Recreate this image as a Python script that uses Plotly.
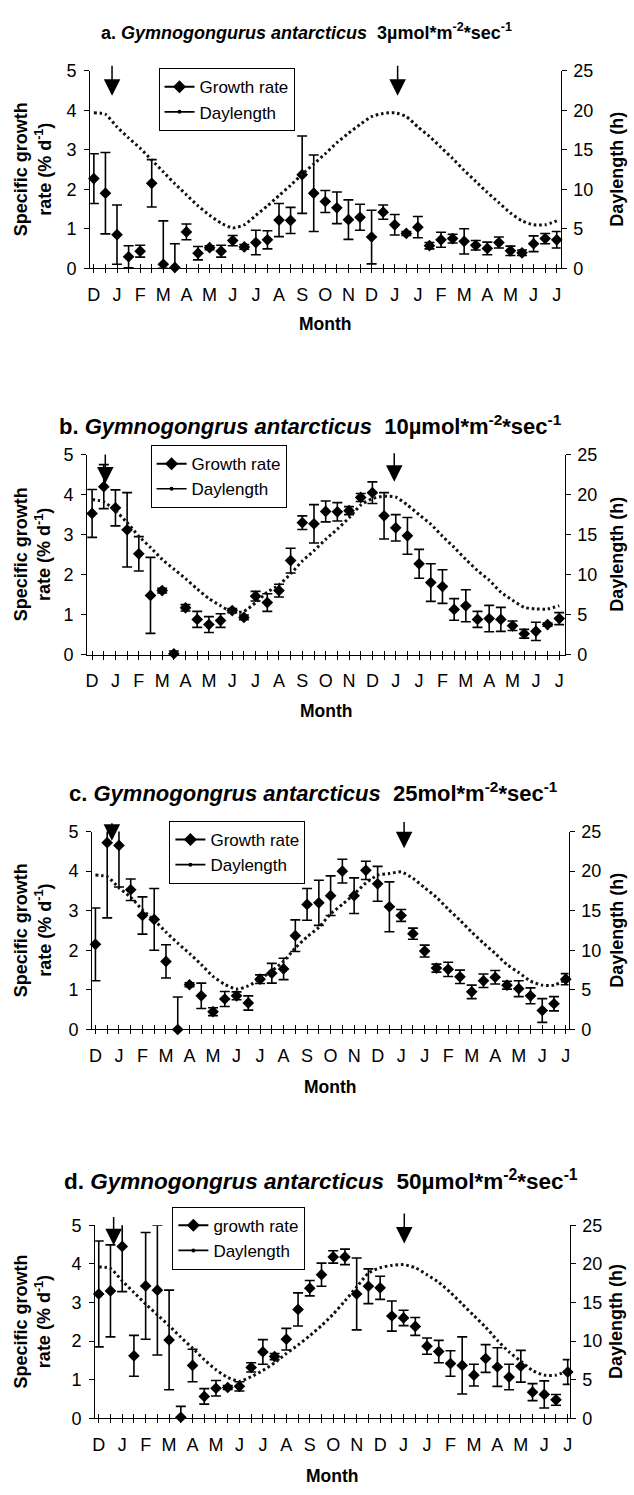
import plotly.graph_objects as go

# ---------------- data ----------------
months = ["D", "J", "F", "M", "A", "M", "J", "J", "A", "S", "O", "N",
          "D", "J", "J", "F", "M", "A", "M", "J", "J"]
sample_idx = list(range(41))  # two samplings per month

growth_a = [2.27, 1.90, 0.85, 0.29, 0.43, 2.15, 0.10, 0.02, 0.92, 0.38, 0.52, 0.43, 0.70, 0.54,
            0.65, 0.72, 1.22, 1.21, 2.37, 1.90, 1.69, 1.53, 1.23, 1.29, 0.79, 1.42, 1.10, 0.88,
            1.04, 0.57, 0.72, 0.75, 0.68, 0.58, 0.50, 0.65, 0.44, 0.39, 0.62, 0.75, 0.72]
err_a = [0.63, 1.03, 0.75, 0.28, 0.15, 0.60, 1.10, 0.60, 0.20, 0.17, 0.05, 0.15, 0.13, 0.06,
         0.31, 0.23, 0.42, 0.33, 0.98, 0.97, 0.28, 0.40, 0.50, 0.33, 0.68, 0.18, 0.26, 0.05,
         0.27, 0.08, 0.19, 0.11, 0.32, 0.12, 0.16, 0.14, 0.12, 0.07, 0.20, 0.13, 0.21]
daylength_a = [19.7, 19.5, 17.9, 16.5, 15.2, 13.7, 12.2, 10.7, 9.3, 7.9, 6.7, 5.7, 5.1, 5.5,
               6.7, 7.9, 9.2, 10.5, 11.9, 13.2, 14.5, 15.9, 17.1, 18.2, 19.2, 19.6, 19.7, 19.2,
               17.9, 16.7, 15.3, 13.9, 12.4, 11.0, 9.6, 8.3, 7.0, 6.0, 5.5, 5.5, 6.0]

growth_b = [3.53, 4.20, 3.67, 3.12, 2.52, 1.48, 1.60, 0.02, 1.17, 0.88, 0.75, 0.85, 1.10, 0.93,
            1.46, 1.30, 1.60, 2.35, 3.30, 3.27, 3.58, 3.57, 3.60, 3.93, 4.05, 3.47, 3.17, 2.97,
            2.27, 1.80, 1.70, 1.13, 1.22, 0.88, 0.90, 0.88, 0.72, 0.52, 0.58, 0.75, 0.90]
err_b = [0.60, 0.55, 0.45, 0.93, 0.43, 0.95, 0.06, 0.07, 0.08, 0.20, 0.20, 0.17, 0.05, 0.06,
         0.12, 0.22, 0.16, 0.31, 0.17, 0.48, 0.26, 0.23, 0.10, 0.10, 0.27, 0.58, 0.33, 0.46,
         0.36, 0.47, 0.42, 0.27, 0.40, 0.20, 0.33, 0.30, 0.12, 0.11, 0.23, 0.04, 0.15]
daylength_b = [19.4, 19.1, 18.0, 16.5, 14.8, 13.4, 11.9, 10.7, 9.5, 8.2, 7.0, 6.1, 5.3, 5.4,
               6.5, 7.8, 8.7, 10.1, 11.7, 13.0, 14.4, 15.7, 17.1, 18.7, 19.5, 19.8, 19.7, 18.7,
               17.5, 16.3, 14.8, 13.4, 11.9, 10.5, 9.3, 7.8, 6.8, 5.9, 5.7, 5.7, 6.1]

growth_c = [2.15, 4.72, 4.65, 3.53, 2.88, 2.78, 1.72, 0.00, 1.13, 0.85, 0.45, 0.77, 0.85, 0.67,
            1.27, 1.42, 1.53, 2.37, 3.16, 3.20, 3.38, 4.00, 3.38, 4.02, 3.68, 3.10, 2.88, 2.42,
            1.98, 1.55, 1.52, 1.33, 0.95, 1.23, 1.32, 1.12, 1.03, 0.85, 0.48, 0.65, 1.27]
err_c = [0.92, 1.90, 1.05, 0.27, 0.47, 0.78, 0.42, 0.82, 0.05, 0.32, 0.10, 0.19, 0.10, 0.18,
         0.11, 0.25, 0.27, 0.40, 0.40, 0.57, 0.50, 0.30, 0.45, 0.23, 0.44, 0.63, 0.15, 0.14,
         0.15, 0.10, 0.18, 0.17, 0.17, 0.17, 0.17, 0.10, 0.20, 0.20, 0.30, 0.18, 0.14]
daylength_c = [19.5, 19.3, 17.9, 16.7, 15.1, 13.8, 12.3, 10.9, 9.6, 8.2, 6.7, 5.7, 5.1, 5.5,
               6.4, 7.4, 8.6, 10.3, 11.7, 12.9, 14.6, 15.8, 17.1, 18.5, 19.5, 19.7, 19.9, 19.1,
               17.9, 16.7, 15.2, 13.8, 12.3, 10.9, 9.6, 8.2, 7.2, 6.1, 5.6, 5.6, 6.3]

growth_d = [3.22, 3.30, 4.45, 1.62, 3.43, 3.32, 2.03, 0.03, 1.37, 0.57, 0.78, 0.80, 0.83, 1.32,
            1.72, 1.60, 2.05, 2.82, 3.37, 3.72, 4.18, 4.18, 3.22, 3.42, 3.38, 2.65, 2.60, 2.38,
            1.87, 1.73, 1.42, 1.37, 1.12, 1.55, 1.33, 1.07, 1.35, 0.68, 0.62, 0.48, 1.20]
err_d = [1.37, 1.19, 1.17, 0.53, 1.38, 1.68, 1.29, 0.28, 0.42, 0.20, 0.20, 0.05, 0.12, 0.12,
         0.32, 0.08, 0.28, 0.43, 0.20, 0.30, 0.16, 0.20, 0.93, 0.45, 0.30, 0.39, 0.20, 0.23,
         0.21, 0.29, 0.33, 0.74, 0.28, 0.36, 0.50, 0.33, 0.41, 0.22, 0.35, 0.14, 0.32]
daylength_d = [19.6, 19.4, 17.8, 16.3, 14.8, 13.4, 12.0, 10.5, 9.1, 7.6, 6.3, 5.3, 4.8, 5.4,
               6.2, 7.2, 8.4, 9.5, 10.7, 12.0, 13.5, 15.2, 17.0, 18.8, 19.5, 19.8, 19.9, 19.5,
               18.6, 17.6, 16.3, 14.8, 13.3, 11.8, 10.1, 8.6, 7.4, 6.2, 5.6, 5.6, 6.2]

titles = [
    "<b>a. <i>Gymnogongurus antarcticus</i>\u00a0\u00a03µmol*m<sup>-2</sup>*sec<sup>-1</sup></b>",
    "<b>b. <i>Gymnogongrus antarcticus</i>\u00a0\u00a010µmol*m<sup>-2</sup>*sec<sup>-1</sup></b>",
    "<b>c. <i>Gymnogongrus antarcticus</i>\u00a0\u00a025mol*m<sup>-2</sup>*sec<sup>-1</sup></b>",
    "<b>d. <i>Gymnogongrus antarcticus</i>\u00a0\u00a050µmol*m<sup>-2</sup>*sec<sup>-1</sup></b>",
]
growth_names = ["Growth rate", "Growth rate", "Growth rate", "growth rate"]
daylength_name = "Daylength"
# arrows: (sample position, arrow top, arrow tip) in growth-rate units
arrows = [
    [(1.57, 5.17, 4.37), (26.25, 5.17, 4.37)],
    [(1.13, 5.04, 4.28), (25.87, 5.07, 4.32)],
    [(1.40, 5.25, 4.77), (26.25, 5.28, 4.58)],
    [(1.27, 5.25, 4.48), (26.06, 5.34, 4.53)],
]

# ---------------- layout geometry (pixels) ----------------
W, H = 634, 1495
FONT = "Arial, Liberation Sans, sans-serif"


def fx(px):
    return px / W


def fy(py):
    return 1 - py / H


panels = [
    dict(g=growth_a, e=err_a, d=daylength_a, xdom=(88, 563), xr=(-0.32, 40.34),
         ytop=61.7, ybot=261.7, tx=306, ty=21.7, ts=18, leg=(157, 59), my=318),
    dict(g=growth_b, e=err_b, d=daylength_b, xdom=(85, 567), xr=(-0.42, 40.46),
         ytop=450.7, ybot=653.3, tx=310, ty=421, ts=22, leg=(149, 441), my=711),
    dict(g=growth_c, e=err_c, d=daylength_c, xdom=(90, 571), xr=(-0.28, 40.24),
         ytop=832.7, ybot=1033.3, tx=313, ty=793, ts=22, leg=(168, 822), my=1092),
    dict(g=growth_d, e=err_d, d=daylength_d, xdom=(93, 572), xr=(-0.31, 40.16),
         ytop=1231.7, ybot=1427.5, tx=321, ty=1186, ts=22.5, leg=(171, 1213), my=1486),
]

major_vals = sample_idx[::2]
minor_vals = sample_idx[1::2]


def nm(prefix, n):
    return prefix if n == 1 else f"{prefix}{n}"


fig = go.Figure()
layout = dict(width=W, height=H, margin=dict(l=0, r=0, t=0, b=0),
              paper_bgcolor="white", plot_bgcolor="white",
              font=dict(family=FONT, size=18, color="black"), showlegend=True)
annotations = []

for i, p in enumerate(panels):
    xn, xon, yl, yr = i + 1, i + 5, 2 * i + 1, 2 * i + 2
    xref, xoref, ylref, yrref = nm("x", xn), nm("x", xon), nm("y", yl), nm("y", yr)
    legname = nm("legend", i + 1)

    plus = [min(e, 5.15 - g) for g, e in zip(p["g"], p["e"])]
    minus = [min(e, g) for g, e in zip(p["g"], p["e"])]

    fig.add_trace(go.Scatter(
        x=sample_idx, y=p["d"], mode="lines",
        line=dict(color="#111", width=3, dash="2.6px,2.8px", shape="spline", smoothing=0.6),
        xaxis=xref, yaxis=yrref, showlegend=False, hoverinfo="skip"))
    fig.add_trace(go.Scatter(
        x=sample_idx, y=p["g"], mode="markers",
        marker=dict(symbol="diamond", size=9, color="black"),
        error_y=dict(type="data", symmetric=False, array=plus, arrayminus=minus,
                     color="black", thickness=1.6, width=5),
        cliponaxis=False, xaxis=xref, yaxis=ylref, showlegend=False, hoverinfo="skip"))
    # legend entries
    fig.add_trace(go.Scatter(
        x=[None], y=[None], mode="lines+markers", name=growth_names[i],
        line=dict(color="black", width=2), marker=dict(symbol="diamond", size=10, color="black"),
        xaxis=xref, yaxis=ylref, legend=legname))
    fig.add_trace(go.Scatter(
        x=[None], y=[None], mode="lines+markers", name=daylength_name,
        line=dict(color="black", width=1.6), marker=dict(symbol="circle", size=4, color="black"),
        xaxis=xref, yaxis=ylref, legend=legname))
    # helper for inward tick marks
    fig.add_trace(go.Scatter(x=[None], y=[None], xaxis=xoref, yaxis=ylref,
                             showlegend=False, hoverinfo="skip"))

    layout[nm("xaxis", xn)] = dict(
        domain=[fx(p["xdom"][0]), fx(p["xdom"][1])], range=list(p["xr"]), anchor=ylref,
        tickmode="array", tickvals=major_vals, ticktext=months, ticks="outside", ticklen=4,
        tickcolor="black", tickwidth=1,
        minor=dict(tickmode="array", tickvals=minor_vals, ticks="outside", ticklen=4,
                   tickcolor="black", tickwidth=1, showgrid=False),
        showline=True, linecolor="black", linewidth=1,
        showgrid=False, zeroline=False, tickfont=dict(size=18), ticklabelstandoff=6)
    layout[nm("xaxis", xon)] = dict(
        overlaying=xref, anchor=ylref, range=list(p["xr"]), tickmode="array",
        tickvals=sample_idx, ticks="inside", ticklen=4, tickcolor="black", tickwidth=1,
        showticklabels=False, showline=False, showgrid=False, zeroline=False)
    layout[nm("yaxis", yl)] = dict(
        domain=[fy(p["ybot"]), fy(p["ytop"])], range=[0, 5], dtick=1, tick0=0, anchor=xref,
        ticks="outside", ticklen=5, tickcolor="black", showline=True, linecolor="black",
        linewidth=1, showgrid=False, zeroline=False, tickfont=dict(size=18),
        ticklabelstandoff=4)
    layout[nm("yaxis", yr)] = dict(
        overlaying=ylref, side="right", anchor=xref, range=[0, 25], dtick=5, tick0=0,
        ticks="outside", ticklen=5, tickcolor="black", showline=True, linecolor="black",
        linewidth=1, showgrid=False, zeroline=False, tickfont=dict(size=18),
        ticklabelstandoff=3)

    layout[legname] = dict(
        x=fx(p["leg"][0]), y=fy(p["leg"][1]), xanchor="left", yanchor="top",
        bgcolor="white", bordercolor="black", borderwidth=1,
        font=dict(size=17, family=FONT), tracegroupgap=0, itemclick=False)

    ymid = (p["ytop"] + p["ybot"]) / 2
    annotations += [
        dict(text=titles[i], x=fx(p["tx"]), y=fy(p["ty"]), xref="paper", yref="paper",
             xanchor="center", yanchor="middle", showarrow=False, font=dict(size=p["ts"])),
        dict(text="<b>Specific growth<br>rate (% d<sup>-1</sup>)</b>", x=fx(30), y=fy(ymid),
             xref="paper", yref="paper", xanchor="center", yanchor="middle",
             textangle=-90, showarrow=False, font=dict(size=18)),
        dict(text="<b>Daylength (h)</b>", x=fx(619), y=fy(ymid), xref="paper", yref="paper",
             xanchor="center", yanchor="middle", textangle=-90, showarrow=False,
             font=dict(size=18)),
        dict(text="<b>Month</b>", x=fx((p["xdom"][0] + p["xdom"][1]) / 2), y=fy(p["my"]),
             xref="paper", yref="paper", xanchor="center", yanchor="middle",
             showarrow=False, font=dict(size=17.5)),
    ]
    for (ax_pos, top, tip) in arrows[i]:
        annotations.append(dict(
            x=ax_pos, y=tip, ax=ax_pos, ay=top, xref=xref, yref=ylref, axref=xref, ayref=ylref,
            showarrow=True, arrowhead=2, arrowsize=2.2, arrowwidth=1.5, arrowcolor="black",
            text=""))

layout["annotations"] = annotations
fig.update_layout(**layout)
fig.write_html("out.html")
